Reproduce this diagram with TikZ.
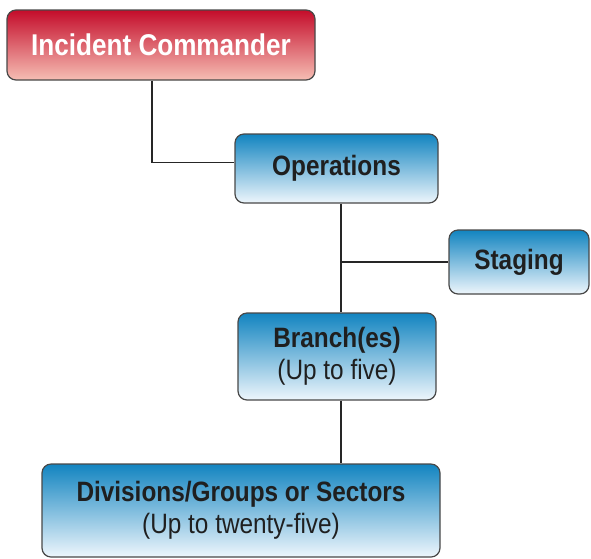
\documentclass[tikz,border=0pt]{standalone}
\usepackage{fontspec}
\newfontfamily\narrowsans[FakeStretch=0.87]{Liberation Sans}
\definecolor{cmdtop}{RGB}{196,12,42}
\definecolor{cmdmid}{RGB}{214,62,74}
\definecolor{cmdbot}{RGB}{246,190,180}
\definecolor{unittop}{RGB}{18,132,192}
\definecolor{unitmid}{RGB}{122,188,228}
\definecolor{unitbot}{RGB}{238,246,252}
\definecolor{rim}{RGB}{72,72,72}
\begin{document}
\begin{tikzpicture}[x=1pt,y=-1pt,
    box/.style={draw=rim,line width=1.2pt,rounded corners=9pt,align=center,inner sep=0pt,
      font=\narrowsans\fontsize{28}{32}\selectfont},
    unit/.style={box,top color=unittop,middle color=unitmid,bottom color=unitbot,text=black!88},
    cmd/.style={box,top color=cmdtop,middle color=cmdmid,bottom color=cmdbot,text=white,
      font=\narrowsans\fontsize{30}{34}\selectfont\bfseries},
    link/.style={line width=1.3pt,black!85}]
  \useasboundingbox (0,0) rectangle (591,558);
  \node[cmd,minimum width=308pt,minimum height=70pt] (ic) at (161,45) {Incident Commander};
  \node[unit,minimum width=203pt,minimum height=69pt] (ops) at (336.5,168.5) {\textbf{Operations}};
  \node[unit,minimum width=140pt,minimum height=64pt] (stg) at (519,262) {\textbf{Staging}};
  \node[unit,minimum width=198pt,minimum height=87pt] (br) at (337,356.5) {\textbf{Branch(es)}\\(Up to five)};
  \node[unit,minimum width=398pt,minimum height=93pt] (div) at (241,510.5) {\textbf{Divisions/Groups or Sectors}\\(Up to twenty-five)};
  \coordinate (trunk) at (341,262);
  \draw[link] ([xshift=-9pt]ic.south) |- ([yshift=6pt]ops.west);
  \draw[link] (ops.south -| trunk) -- (br.north -| trunk);
  \draw[link] (trunk) -- (stg.west);
  \draw[link] (br.south -| trunk) -- (div.north -| trunk);
\end{tikzpicture}
\end{document}
